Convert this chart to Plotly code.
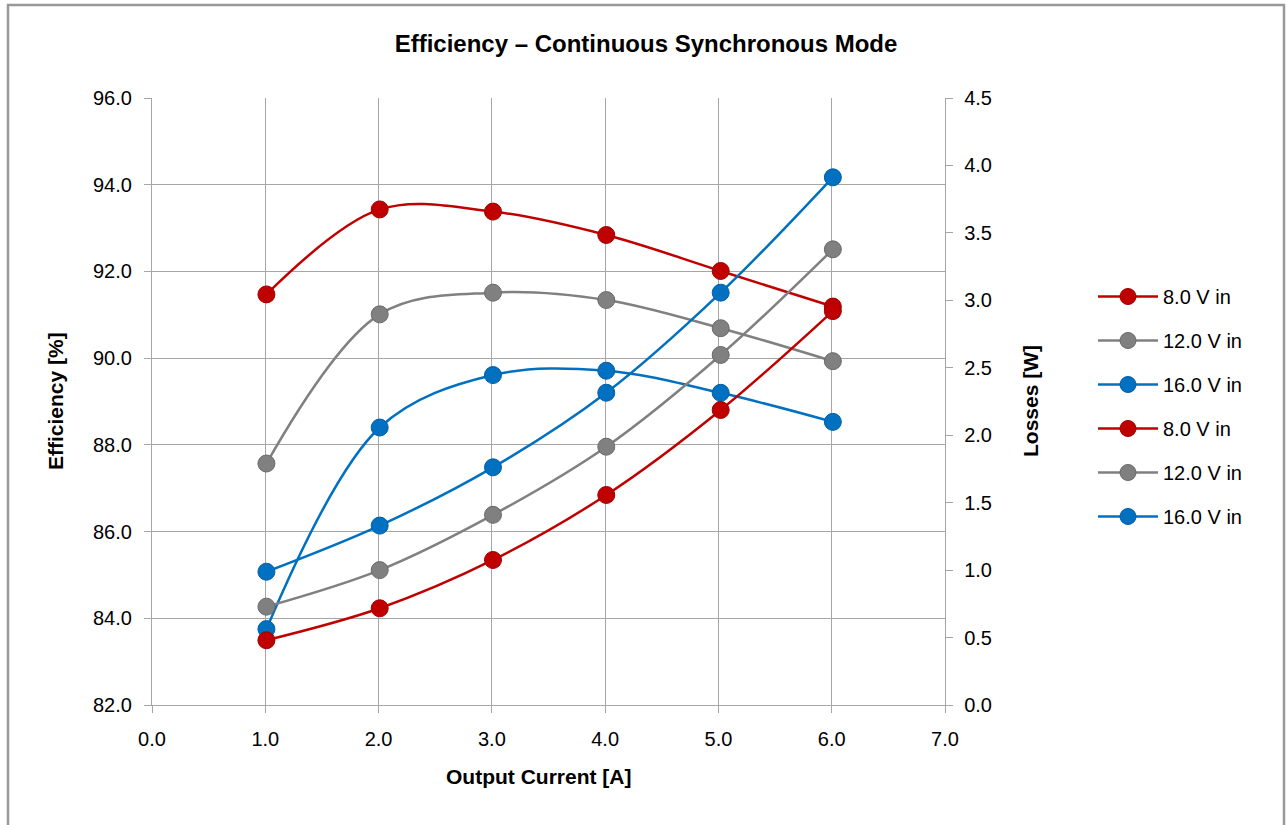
import plotly.graph_objects as go

# Data
current_a = [1.01, 2.01, 3.01, 4.01, 5.02, 6.01]
series_names = ["8.0 V in", "12.0 V in", "16.0 V in"]
eff_8v = [91.47, 93.43, 93.38, 92.84, 92.01, 91.19]
eff_12v = [87.57, 91.01, 91.51, 91.34, 90.69, 89.93]
eff_16v = [83.75, 88.40, 89.61, 89.71, 89.20, 88.53]
loss_8v = [0.48, 0.717, 1.075, 1.557, 2.187, 2.92]
loss_12v = [0.729, 1.00, 1.41, 1.915, 2.595, 3.378]
loss_16v = [0.988, 1.33, 1.762, 2.315, 3.057, 3.912]

colors = ["#C00000", "#808080", "#0070C0"]
outline = ["#A00000", "#6A6A6A", "#005EA6"]

FONT = "Liberation Sans, Arial, Helvetica, sans-serif"

fig = go.Figure()

for i, (name, ys) in enumerate(zip(series_names, [loss_8v, loss_12v, loss_16v])):
    fig.add_trace(go.Scatter(
        x=current_a, y=ys, name=name, yaxis="y2", mode="lines+markers",
        line=dict(color=colors[i], width=2.5, shape="spline", smoothing=1.0),
        marker=dict(size=17, color=colors[i], line=dict(color=outline[i], width=1)),
        legendgroup="l%d" % i, legendrank=10 + i,
    ))
for i, (name, ys) in enumerate(zip(series_names, [eff_8v, eff_12v, eff_16v])):
    fig.add_trace(go.Scatter(
        x=current_a, y=ys, name=name, yaxis="y", mode="lines+markers",
        line=dict(color=colors[i], width=2.5, shape="spline", smoothing=1.0),
        marker=dict(size=17, color=colors[i], line=dict(color=outline[i], width=1)),
        legendgroup="e%d" % i, legendrank=1 + i,
    ))

W, H = 1286, 825
L, R, T, B = 152, 945, 98, 705

def px(x):
    return (x - L) / (R - L)

def py(y):
    return (B - y) / (B - T)

grid = "#A6A6A6"

fig.update_layout(
    width=W, height=H,
    margin=dict(l=L, r=W - R, t=T, b=H - B, autoexpand=False),
    paper_bgcolor="white", plot_bgcolor="white",
    font=dict(family=FONT, size=20, color="#000000"),
    title=dict(text="<b>Efficiency – Continuous Synchronous Mode</b>",
               x=px(646), xref="paper", xanchor="center",
               y=1 - 44 / H, yanchor="middle", font=dict(size=24)),
    xaxis=dict(range=[0, 7], dtick=1, tick0=0, tickformat=".1f",
               showgrid=True, gridcolor=grid, gridwidth=1.3,
               showline=True, linecolor=grid, linewidth=1.3, mirror=False,
               ticks="outside", ticklen=7, tickcolor=grid,
               zeroline=False, tickfont=dict(size=20), ticklabelstandoff=9),
    yaxis=dict(range=[82, 96], dtick=2, tick0=82, tickformat=".1f",
               showgrid=True, gridcolor=grid, gridwidth=1.3,
               showline=True, linecolor=grid, linewidth=1.3,
               ticks="outside", ticklen=7, tickcolor=grid,
               zeroline=False, tickfont=dict(size=20), ticklabelstandoff=8),
    yaxis2=dict(range=[0, 4.5], dtick=0.5, tick0=0, tickformat=".1f",
                overlaying="y", side="right", showgrid=False,
                showline=True, linecolor=grid, linewidth=1.3,
                ticks="outside", ticklen=7, tickcolor=grid,
                zeroline=False, tickfont=dict(size=20), ticklabelstandoff=7),
    legend=dict(x=px(1093), y=py(277), xanchor="left", yanchor="top",
                font=dict(size=20), tracegroupgap=15,
                bgcolor="rgba(0,0,0,0)", itemwidth=60),
    showlegend=True,
)

# Axis titles
fig.add_annotation(text="<b>Output Current [A]</b>", xref="paper", yref="paper",
                   x=px(538), y=py(776), showarrow=False, font=dict(size=21),
                   xanchor="center", yanchor="middle")
fig.add_annotation(text="<b>Efficiency [%]</b>", xref="paper", yref="paper",
                   x=px(55), y=py(401), showarrow=False, font=dict(size=21),
                   textangle=-90, xanchor="center", yanchor="middle")
fig.add_annotation(text="<b>Losses [W]</b>", xref="paper", yref="paper",
                   x=px(1030), y=py(401), showarrow=False, font=dict(size=21),
                   textangle=-90, xanchor="center", yanchor="middle")

# Outer chart border
fig.add_shape(type="rect", xref="paper", yref="paper",
              x0=px(8), x1=px(1284), y0=py(840), y1=py(5),
              line=dict(color="#999999", width=2.5), fillcolor="rgba(0,0,0,0)",
              layer="below")

fig.write_html("out.html", config={"displayModeBar": False},
               post_script="document.body.style.margin='0';")
